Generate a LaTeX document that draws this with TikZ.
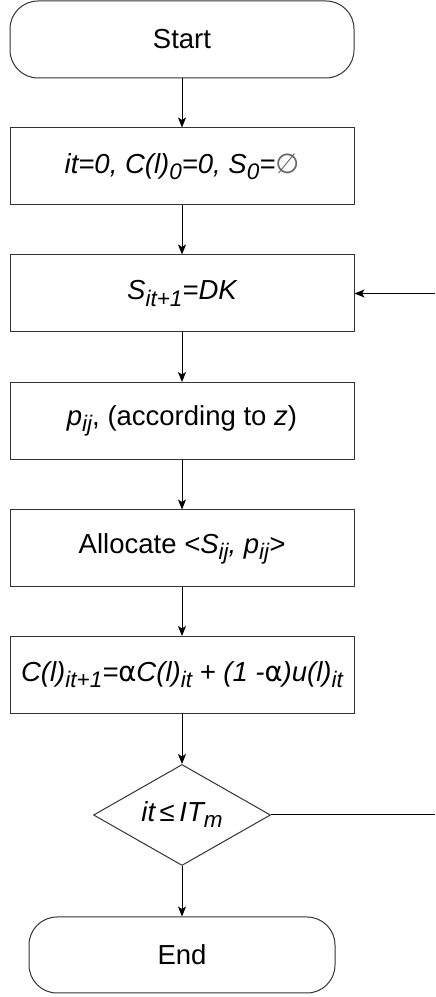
\documentclass[tikz,border=0pt]{standalone}
\usepackage{fontspec}
\setmainfont{Liberation Sans}
\newfontfamily\symbfont{DejaVu Sans}
\usetikzlibrary{shapes.geometric,arrows.meta}
\newcommand{\lowidx}[1]{\raisebox{-0.22em}{\fontsize{22.5}{26}\selectfont #1}}
\tikzset{
  terminal/.style={draw=black!80,rounded corners=28pt,minimum width=344pt,minimum height=77pt},
  process/.style={draw=black!80,minimum width=344pt,minimum height=77pt,inner sep=1pt},
  decision/.style={draw=black!80,diamond,aspect=1.75,minimum width=177pt,minimum height=101pt,inner sep=0pt}
}
\begin{document}
\begin{tikzpicture}[x=1pt,y=1pt,font=\fontsize{27.5}{32}\selectfont,line width=1pt,>={Stealth[length=10pt,width=8pt,inset=2.5pt]}]
  \useasboundingbox (0,0) rectangle (436,997);
  \node[terminal] (start) at (182,957.5) {Start};
  \node[process] (init) at (182,830.5) {\itshape it=0, C(l)\lowidx{0}=0, S\lowidx{0}={\symbfont\upshape\color{black!60}∅}};
  \node[process] (sel) at (182,703.5) {\itshape S\lowidx{it+1}=DK};
  \node[process] (price) at (182,576) {\textit{p\lowidx{ij}}, (according to \textit{z})};
  \node[process] (alloc) at (182,448.5) {Allocate \textit{<S\lowidx{ij}, p\lowidx{ij}>}};
  \node[process] (upd) at (182,322) {\itshape C(l)\lowidx{it+1}={\symbfont\upshape α}C(l)\lowidx{it} + (1 -{\symbfont\upshape α})u(l)\lowidx{it}};
  \node[decision] (check) at (182,182) {\itshape it\,{\upshape ≤}\,IT\lowidx{m}};
  \node[terminal,minimum width=306pt,minimum height=76pt] (end) at (182,42) {End};
  \coordinate (loopin) at (435,703.5);
  \coordinate (loopout) at (435,182);
  \draw[->] (start) -- (init);
  \draw[->] (init) -- (sel);
  \draw[->] (sel) -- (price);
  \draw[->] (price) -- (alloc);
  \draw[->] (alloc) -- (upd);
  \draw[->] (upd) -- (check);
  \draw[->] (check) -- (end);
  \draw (check) -- (loopout);
  \draw[->] (loopin) -- (sel);
\end{tikzpicture}
\end{document}
